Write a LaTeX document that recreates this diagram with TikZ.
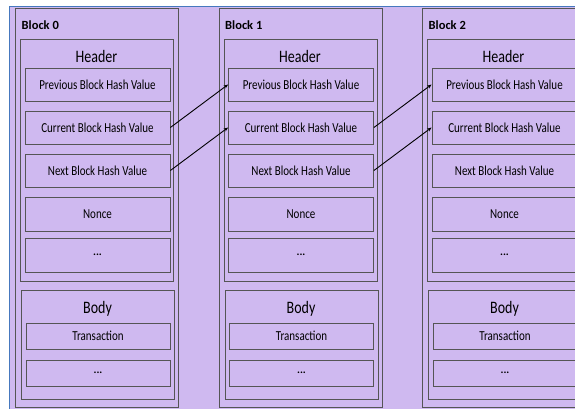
\documentclass[tikz,border=0pt]{standalone}
\usepackage{fontspec}
\setmainfont{Carlito}
\usepackage{graphicx}
\usetikzlibrary{arrows.meta}
\definecolor{lav}{RGB}{207,185,240}
\definecolor{frameblue}{RGB}{70,120,190}
\definecolor{edgegray}{RGB}{85,85,85}
\newcommand\tall[1]{\scalebox{1}[1.25]{#1}}
\begin{document}
\begin{tikzpicture}[x=1pt,y=-1pt,
  boxline/.style={draw=edgegray, line width=0.8pt, fill=lav, inner sep=0pt},
  cell/.style={boxline, minimum width=145pt, font=\fontsize{11}{13}\selectfont},
  bcell/.style={boxline, minimum width=144pt, minimum height=26pt, font=\fontsize{11}{13}\selectfont},
  group/.style={boxline, anchor=north west},
  grouplabel/.style={inner sep=0pt, font=\fontsize{14}{16}\selectfont},
  blocktitle/.style={inner sep=0pt, anchor=base west, font=\fontsize{12.5}{14}\bfseries},
  arr/.style={draw=black, line width=0.9pt, -{Stealth[length=4.5pt,width=3.5pt]}}
]
\useasboundingbox (0,0) rectangle (575,409);
\clip (0,0) rectangle (575,409);
\fill[white] (0,0) rectangle (575,409);
\fill[lav] (9.5,6.5) rectangle (575,409);
\draw[frameblue, line width=1.5pt] (9.5,409) -- (9.5,6.5) -- (575,6.5);
\foreach \b in {0,1,2}{
  \begin{scope}[xshift=203.5*\b]
    \node[group, minimum width=163pt, minimum height=399pt] (blk\b) at (15,8) {};
    \node[blocktitle] (title\b) at (21.5,30) {Block \b};
    \node[group, minimum width=153pt, minimum height=242pt] (hdr\b) at (20,39) {};
    \node[grouplabel] (hdrlabel\b) at (96.5,56) {\tall{Header}};
    \node[cell, minimum height=33pt] (prev\b) at (97.5,84.5) {\tall{Previous Block Hash Value}};
    \node[cell, minimum height=33pt] (cur\b) at (97.5,127.5) {\tall{Current Block Hash Value}};
    \node[cell, minimum height=33pt] (next\b) at (97.5,170.5) {\tall{Next Block Hash Value}};
    \node[cell, minimum height=34pt] (nonce\b) at (97.5,214) {\tall{Nonce}};
    \node[cell, minimum height=34pt] (hdots\b) at (97.5,255) {\textbf{...}};
    \node[group, minimum width=153pt, minimum height=109pt] (body\b) at (21,290) {};
    \node[grouplabel] (bodylabel\b) at (97.5,309) {\tall{Body}};
    \node[bcell] (trans\b) at (98,336) {\tall{Transaction}};
    \node[bcell] (bdots\b) at (98,373) {\textbf{...}};
  \end{scope}
}
\draw[arr] (cur0.east) -- (prev1.west);
\draw[arr] (next0.east) -- (cur1.west);
\draw[arr] (cur1.east) -- (prev2.west);
\draw[arr] (next1.east) -- (cur2.west);
\end{tikzpicture}
\end{document}
